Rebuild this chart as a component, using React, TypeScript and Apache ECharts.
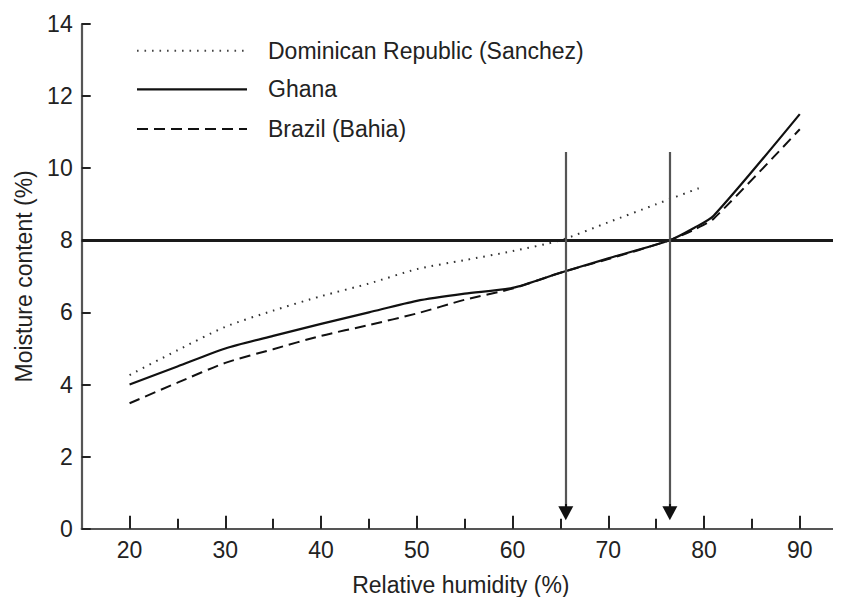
import React, { useEffect, useRef } from "react";
import * as echarts from "echarts";

const seriesNames = ["Dominican Republic (Sanchez)", "Ghana", "Brazil (Bahia)"];

const dominicanX = [20, 25, 30, 35, 40, 45, 50, 55, 60, 65, 70, 75, 79.6];
const dominicanY = [4.26, 4.95, 5.6, 6.05, 6.45, 6.8, 7.2, 7.45, 7.7, 8.0, 8.5, 9.0, 9.46];

const ghanaX = [20, 25, 30, 35, 40, 45, 50, 55, 60, 65, 70, 76.4, 79, 81, 90];
const ghanaY = [4.0, 4.5, 5.0, 5.35, 5.68, 6.0, 6.32, 6.52, 6.68, 7.1, 7.5, 8.0, 8.35, 8.68, 11.5];

const brazilX = [20, 25, 30, 35, 40, 45, 50, 55, 60, 65, 70, 76.4, 79, 81, 90];
const brazilY = [3.48, 4.05, 4.6, 4.98, 5.35, 5.65, 5.97, 6.35, 6.66, 7.1, 7.48, 8.0, 8.3, 8.6, 11.08];

const xMajorTicks = [20, 30, 40, 50, 60, 70, 80, 90];
const xMinorTicks = [25, 35, 45, 55, 65, 75, 85];
const xMin = 15;
const xMax = 94.2;

const targetMoisture = 8;
const arrowX = [65.56, 76.43];
const arrowTop = 10.45;
const arrowHeadStart = 0.7;
const arrowBottom = 0.43;

const pairs = (xs: number[], ys: number[]) => xs.map((x, i) => [x, ys[i]]);

const FONT = "'Liberation Sans', Arial, Helvetica, sans-serif";
const INK = "#222";
const AXIS = "#555";
const FS = 23;

const legendRows = [42.7, 81.3, 121];
const legendDash: any[] = [[1.6, 5.9], null, [11, 6]];

export default function App() {
  const ref = useRef<HTMLDivElement>(null);

  useEffect(() => {
    if (!ref.current) return;
    const chart = echarts.init(ref.current, null, { renderer: "svg" });
    const lineBase = { type: "line", showSymbol: false, symbol: "none", smooth: 0.25, silent: true };

    const legendGraphics: any[] = [];
    seriesNames.forEach((name, i) => {
      legendGraphics.push({
        type: "line",
        silent: true,
        shape: { x1: 129, y1: legendRows[i], x2: 239, y2: legendRows[i] },
        style: {
          stroke: i === 0 ? "#444" : "#111",
          lineWidth: i === 1 ? 2.2 : 2,
          lineDash: legendDash[i] || undefined,
        },
      });
      legendGraphics.push({
        type: "text",
        silent: true,
        x: 260,
        y: legendRows[i],
        style: {
          text: name,
          fontSize: FS,
          fontFamily: FONT,
          fill: INK,
          verticalAlign: "middle",
          align: "left",
        },
      });
    });

    const plainMarkLine = {
      silent: true,
      animation: false,
      label: { show: false },
      emphasis: { disabled: true },
    };

    chart.setOption({
      animation: false,
      backgroundColor: "#fff",
      textStyle: { fontFamily: FONT },
      grid: { left: 73.7, right: 1, top: 16, bottom: 68.3, outerBoundsMode: "none", containLabel: false },
      graphic: legendGraphics,
      xAxis: [
        {
          type: "value",
          min: xMin,
          max: xMax,
          position: "bottom",
          name: "Relative humidity (%)",
          nameLocation: "middle",
          nameGap: 45,
          nameTextStyle: { fontSize: FS, color: INK, fontFamily: FONT },
          splitLine: { show: false },
          axisLine: { show: true, lineStyle: { color: AXIS, width: 2.2 } },
          axisTick: { show: true, inside: true, length: 13, customValues: xMajorTicks, lineStyle: { color: INK, width: 2 } },
          axisLabel: { fontSize: FS, color: INK, margin: 9.5, customValues: xMajorTicks, fontFamily: FONT },
        },
        {
          type: "value",
          min: xMin,
          max: xMax,
          position: "bottom",
          offset: 0,
          splitLine: { show: false },
          axisLine: { show: false },
          axisTick: { show: true, inside: true, length: 10, customValues: xMinorTicks, lineStyle: { color: INK, width: 2 } },
          axisLabel: { show: false },
        },
      ],
      yAxis: {
        type: "value",
        min: 0,
        max: 14,
        interval: 2,
        name: "Moisture content (%)",
        nameLocation: "middle",
        nameGap: 46,
        nameTextStyle: { fontSize: FS, color: INK, fontFamily: FONT },
        splitLine: { show: false },
        axisLine: { show: true, lineStyle: { color: AXIS, width: 2.2 } },
        axisTick: { show: true, inside: true, length: 9, lineStyle: { color: INK, width: 2 } },
        axisLabel: { fontSize: FS, color: INK, margin: 9, fontFamily: FONT },
      },
      series: [
        {
          ...lineBase,
          name: seriesNames[0],
          data: pairs(dominicanX, dominicanY),
          lineStyle: { color: "#333", width: 2, type: [1.6, 5.9] },
        },
        {
          ...lineBase,
          name: seriesNames[1],
          data: pairs(ghanaX, ghanaY),
          lineStyle: { color: "#111", width: 2.2, type: "solid" },
        },
        {
          ...lineBase,
          name: seriesNames[2],
          data: pairs(brazilX, brazilY),
          lineStyle: { color: "#111", width: 2, type: [11, 6] },
        },
        {
          type: "line",
          name: "target",
          data: [],
          silent: true,
          markLine: {
            ...plainMarkLine,
            data: [
              [
                { coord: [xMin, targetMoisture], symbol: "none" },
                { coord: [xMax, targetMoisture], symbol: "none" },
              ],
            ],
            lineStyle: { color: "#1a1a1a", width: 3, type: "solid" },
          },
        },
        {
          type: "line",
          name: "arrowShafts",
          data: [],
          silent: true,
          markLine: {
            ...plainMarkLine,
            data: arrowX.map((x) => [
              { coord: [x, arrowTop], symbol: "none" },
              { coord: [x, arrowHeadStart], symbol: "none" },
            ]),
            lineStyle: { color: "#555", width: 2.2, type: "solid" },
          },
        },
        {
          type: "line",
          name: "arrowHeads",
          data: [],
          silent: true,
          markLine: {
            ...plainMarkLine,
            data: arrowX.map((x) => [
              { coord: [x, arrowHeadStart], symbol: "none" },
              { coord: [x, arrowBottom], symbol: "triangle", symbolSize: [15, 14] },
            ]),
            lineStyle: { color: "#111", width: 2.2, type: "solid" },
          },
        },
      ],
    });
    return () => chart.dispose();
  }, []);

  return <div ref={ref} style={{ width: 833, height: 589 }} />;
}
